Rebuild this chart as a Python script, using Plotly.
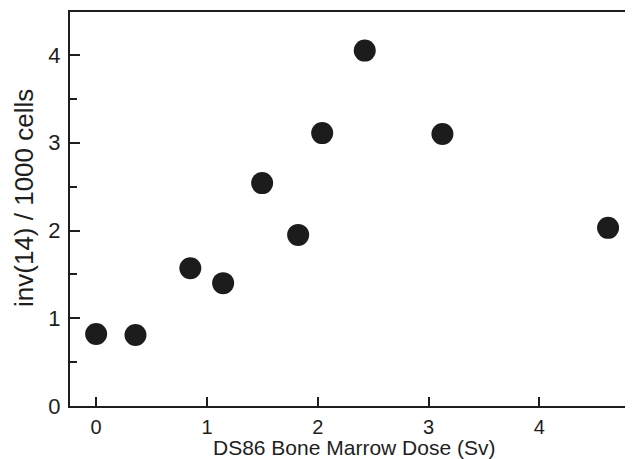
import plotly.graph_objects as go

dose_sv = [0.0, 0.355, 0.85, 1.146, 1.498, 1.823, 2.04, 2.424, 3.125, 4.62]
inv14_per_1000 = [0.82, 0.81, 1.57, 1.40, 2.54, 1.95, 3.11, 4.05, 3.10, 2.03]
x_ticks = [0, 1, 2, 3, 4]
y_ticks = [0, 1, 2, 3, 4]
x_title = "DS86 Bone Marrow Dose (Sv)"
y_title = "inv(14) / 1000 cells"

fig = go.Figure()
fig.add_trace(go.Scatter(
    x=dose_sv, y=inv14_per_1000, mode="markers",
    marker=dict(size=22, color="#1c1c1c", line=dict(width=0)),
    showlegend=False, cliponaxis=False,
))

font_family = "Liberation Sans, Arial, Helvetica, sans-serif"
ink = "#1e1e1e"
# page body has an 8px default margin, so the figure is 8px smaller and offset
fig.update_layout(
    width=625, height=451,
    margin=dict(l=62, r=0, t=4, b=53, autoexpand=False),
    paper_bgcolor="white", plot_bgcolor="white",
    font=dict(family=font_family, color=ink),
    xaxis=dict(
        range=[-0.236, 4.845], tickvals=x_ticks, ticks="inside", ticklen=9,
        tickwidth=1.5, tickcolor=ink, showline=True, linecolor=ink,
        linewidth=2, mirror=True, showgrid=False, zeroline=False,
        tickfont=dict(size=20), ticklabelstandoff=2, automargin=False,
    ),
    yaxis=dict(
        range=[0, 4.49], tickvals=y_ticks, ticks="inside", ticklen=10,
        tickwidth=1.5, tickcolor=ink, showline=True, linecolor=ink,
        linewidth=2, mirror=False, showgrid=False, zeroline=False,
        tickfont=dict(size=22), ticklabelstandoff=3, automargin=False,
        minor=dict(dtick=0.5, ticks="inside", ticklen=7, tickwidth=1.5, tickcolor=ink, showgrid=False),
    ),
    annotations=[
        dict(text=x_title, xref="paper", yref="paper", x=0.504, y=0,
             yshift=-41, xanchor="center", yanchor="middle", showarrow=False,
             font=dict(size=21, color=ink)),
        dict(text=y_title, xref="paper", yref="paper", x=0, y=0.528,
             xshift=-46, xanchor="center", yanchor="middle", showarrow=False,
             textangle=-90, font=dict(size=26, color=ink)),
    ],
)
fig.write_html("out.html")
